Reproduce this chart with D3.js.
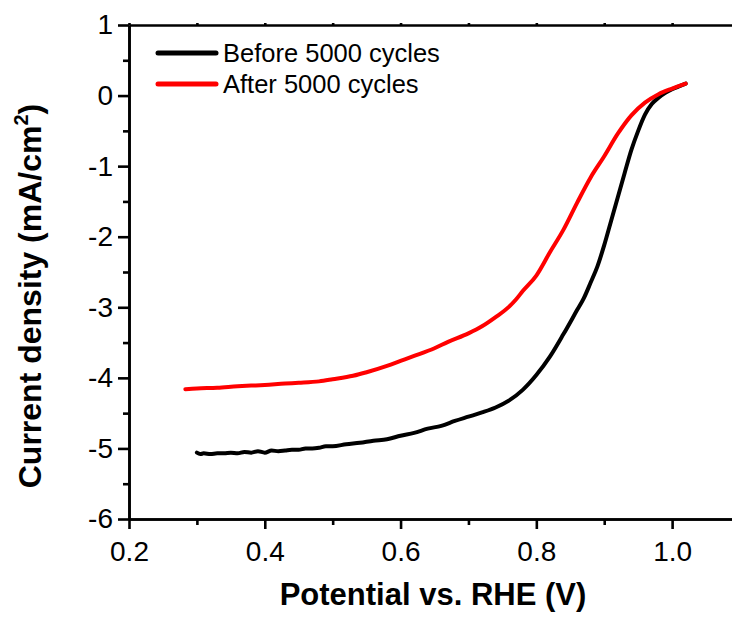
<!DOCTYPE html>
<html>
<head>
<meta charset="utf-8">
<script src="https://cdn.jsdelivr.net/npm/d3@7"></script>
<style>
  html, body { margin: 0; padding: 0; background: #fff; overflow: hidden; }
  svg { display: block; }
  text { font-family: "Liberation Sans", Arial, sans-serif; fill: #000; }
</style>
</head>
<body>
<svg id="chart" width="732" height="622"></svg>
<script>
// ---- data ----
const seriesNames = ["Before 5000 cycles", "After 5000 cycles"];
const seriesColors = ["#000000", "#ff0000"];

const beforePotential = [0.300,0.305,0.31,0.32,0.33,0.34,0.35,0.36,0.37,0.38,0.39,0.40,0.41,0.42,0.43,0.44,0.45,0.46,0.47,0.48,0.49,0.50,0.52,0.54,0.56,0.58,0.60,0.62,0.64,0.66,0.68,0.70,0.72,0.74,0.76,0.78,0.80,0.82,0.84,0.86,0.87,0.88,0.89,0.90,0.91,0.92,0.93,0.94,0.95,0.96,0.97,0.98,0.99,1.00,1.01,1.02];
const beforeCurrent = [-5.06,-5.08,-5.07,-5.08,-5.07,-5.07,-5.06,-5.07,-5.05,-5.06,-5.04,-5.06,-5.03,-5.04,-5.03,-5.02,-5.02,-5.00,-5.00,-4.99,-4.97,-4.97,-4.94,-4.92,-4.89,-4.87,-4.82,-4.78,-4.72,-4.68,-4.61,-4.55,-4.49,-4.42,-4.32,-4.17,-3.96,-3.70,-3.38,-3.04,-2.87,-2.65,-2.42,-2.12,-1.78,-1.44,-1.10,-0.77,-0.50,-0.27,-0.12,-0.03,0.04,0.09,0.13,0.17];

const afterPotential = [0.283,0.30,0.33,0.36,0.38,0.40,0.43,0.45,0.48,0.50,0.53,0.55,0.58,0.60,0.62,0.65,0.67,0.70,0.72,0.74,0.76,0.77,0.78,0.80,0.82,0.84,0.86,0.88,0.90,0.92,0.94,0.96,0.98,1.00,1.02];
const afterCurrent = [-4.16,-4.15,-4.14,-4.12,-4.11,-4.10,-4.08,-4.07,-4.05,-4.02,-3.97,-3.92,-3.83,-3.76,-3.69,-3.58,-3.49,-3.37,-3.27,-3.14,-2.99,-2.89,-2.77,-2.55,-2.22,-1.90,-1.52,-1.16,-0.86,-0.54,-0.28,-0.10,0.02,0.10,0.17];

const xMajorTicks = [0.2, 0.4, 0.6, 0.8, 1.0];
const xMinorTicks = [0.3, 0.5, 0.7, 0.9];
const yMajorTicks = [1, 0, -1, -2, -3, -4, -5, -6];
const yMinorTicks = [0.5, -0.5, -1.5, -2.5, -3.5, -4.5, -5.5];
const xTitle = "Potential vs. RHE (V)";

// ---- layout ----
const svg = d3.select("#chart");
const mLeft = 129, mTop = 25, mBottom = 519, mRight = 740;

const x = d3.scaleLinear().domain([0.2, 1.1]).range([mLeft, mRight]);
const y = d3.scaleLinear().domain([-6, 1]).range([mBottom, mTop]);

const axisW = 2.6;

function styleAxis(g) {
  g.select(".domain").attr("stroke", "#000").attr("stroke-width", axisW);
  g.selectAll(".tick line").attr("stroke", "#000").attr("stroke-width", axisW);
}

// bottom axis (major with labels)
const gx = svg.append("g").attr("transform", `translate(0,${mBottom})`)
  .call(d3.axisBottom(x).tickValues(xMajorTicks).tickSize(10).tickSizeOuter(0).tickPadding(12)
        .tickFormat(d => d.toFixed(1)));
styleAxis(gx);
gx.selectAll(".tick text").attr("font-size", 28).attr("font-family", "Liberation Sans, Arial, sans-serif");
const gxm = svg.append("g").attr("transform", `translate(0,${mBottom})`)
  .call(d3.axisBottom(x).tickValues(xMinorTicks).tickSize(6).tickSizeOuter(0).tickFormat(""));
styleAxis(gxm);

// top axis (frame)
const gt = svg.append("g").attr("transform", `translate(0,${mTop})`)
  .call(d3.axisTop(x).tickValues(xMajorTicks.concat(xMinorTicks)).tickSize(2).tickSizeOuter(0).tickFormat(""));
styleAxis(gt);

// left axis
const gy = svg.append("g").attr("transform", `translate(${mLeft},0)`)
  .call(d3.axisLeft(y).tickValues(yMajorTicks).tickSize(11).tickSizeOuter(0).tickPadding(5)
        .tickFormat(d => String(d)));
styleAxis(gy);
gy.selectAll(".tick text").attr("font-size", 28).attr("font-family", "Liberation Sans, Arial, sans-serif");
const gym = svg.append("g").attr("transform", `translate(${mLeft},0)`)
  .call(d3.axisLeft(y).tickValues(yMinorTicks).tickSize(6).tickSizeOuter(0).tickFormat(""));
styleAxis(gym);

// right axis (frame, off-canvas)
const gr = svg.append("g").attr("transform", `translate(${mRight},0)`)
  .call(d3.axisRight(y).tickValues(yMajorTicks).tickSize(2).tickSizeOuter(0).tickFormat(""));
styleAxis(gr);

// ---- lines ----
const line = d3.line().curve(d3.curveMonotoneX).x(d => x(d[0])).y(d => y(d[1]));
const beforeData = beforePotential.map((v, i) => [v, beforeCurrent[i]]);
const afterData = afterPotential.map((v, i) => [v, afterCurrent[i]]);

svg.append("path").datum(beforeData).attr("d", line)
  .attr("fill", "none").attr("stroke", seriesColors[0]).attr("stroke-width", 4)
  .attr("stroke-linejoin", "round").attr("stroke-linecap", "round");
svg.append("path").datum(afterData).attr("d", line)
  .attr("fill", "none").attr("stroke", seriesColors[1]).attr("stroke-width", 4)
  .attr("stroke-linejoin", "round").attr("stroke-linecap", "round");

// ---- legend ----
const legendY = [53, 84];
seriesNames.forEach((name, i) => {
  svg.append("line").attr("x1", 158).attr("x2", 216).attr("y1", legendY[i]).attr("y2", legendY[i])
    .attr("stroke", seriesColors[i]).attr("stroke-width", 5).attr("stroke-linecap", "round");
  svg.append("text").attr("x", 223).attr("y", legendY[i]).attr("dy", "0.35em")
    .attr("font-size", 25.5).text(name);
});

// ---- axis titles ----
svg.append("text").attr("x", 433).attr("y", 605).attr("text-anchor", "middle")
  .attr("font-size", 31).attr("font-weight", "bold").text(xTitle);

const yt = svg.append("text").attr("transform", "translate(41,296) rotate(-90)")
  .attr("text-anchor", "middle").attr("font-size", 32).attr("font-weight", "bold");
yt.append("tspan").text("Current density (mA/cm");
yt.append("tspan").attr("font-size", 20).attr("dy", -13).text("2");
yt.append("tspan").attr("dy", 13).text(")");
</script>
</body>
</html>
